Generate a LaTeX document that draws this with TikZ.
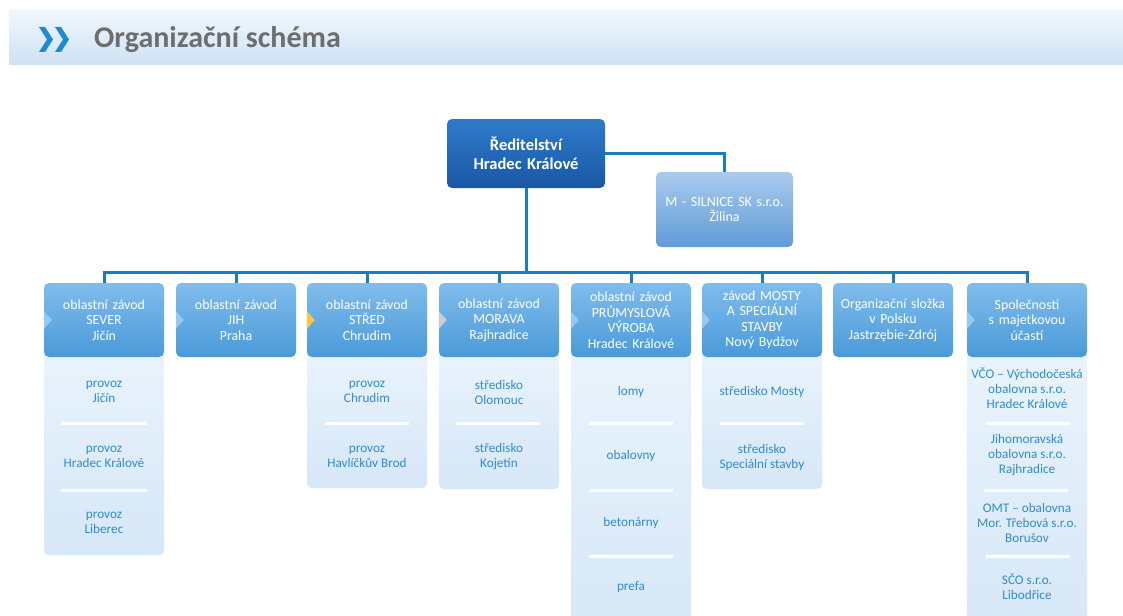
\documentclass[tikz,border=0pt]{standalone}
\usepackage{fontspec}
\setmainfont{Carlito}
\definecolor{hdrtop}{RGB}{240,247,253}
\definecolor{hdrbot}{RGB}{206,226,244}
\definecolor{chevblue}{RGB}{30,138,208}
\definecolor{titlegray}{RGB}{110,110,110}
\definecolor{boxtop}{RGB}{128,188,236}
\definecolor{boxbot}{RGB}{74,154,216}
\definecolor{redtop}{RGB}{46,122,202}
\definecolor{redbot}{RGB}{26,88,165}
\definecolor{msiltop}{RGB}{170,202,236}
\definecolor{msilbot}{RGB}{96,156,216}
\definecolor{subtop}{RGB}{233,243,252}
\definecolor{subbot}{RGB}{214,231,247}
\definecolor{subtxt}{RGB}{48,140,206}
\definecolor{linkblue}{RGB}{26,124,193}
\definecolor{tabblue}{RGB}{150,200,240}
\definecolor{tabyellow}{RGB}{246,200,70}
\definecolor{tabgray}{RGB}{200,205,212}
\begin{document}
\begin{tikzpicture}[x=1pt,y=-1pt,
  lbox/.style={rounded corners=5pt, top color=boxtop, bottom color=boxbot,
    minimum width=120pt, minimum height=74pt, text width=118pt, align=center,
    text=white, font=\fontsize{13.9}{15.5}\selectfont, inner sep=0pt},
  redbox/.style={rounded corners=5pt, top color=redtop, bottom color=redbot,
    minimum width=158pt, minimum height=69pt, text width=150pt, align=center,
    text=white, font=\bfseries\fontsize{16.5}{18.5}\selectfont, inner sep=0pt},
  msilbox/.style={rounded corners=5pt, top color=msiltop, bottom color=msilbot,
    minimum width=137pt, minimum height=75pt, text width=134pt, align=center,
    text=white, font=\fontsize{14}{15.5}\selectfont, inner sep=0pt},
  subpanel/.style={rounded corners=5pt, top color=subtop, bottom color=subbot,
    minimum width=120pt, anchor=north, inner sep=0pt},
  subtext/.style={text=subtxt, align=center, font=\fontsize{13.2}{15}\selectfont, inner sep=0pt},
  sepline/.style={draw=white, line width=3pt},
  conn/.style={draw=linkblue, line width=3pt},
]
\clip (0,0) rectangle (1123,615);
\fill[white] (0,0) rectangle (1123,615);
% header
\shade[top color=hdrtop, bottom color=hdrbot] (9,10) rectangle (1123,65);
\fill[chevblue] (39,27) -- (45,27) -- (53,39.5) -- (45,52) -- (39,52) -- (47,39.5) -- cycle;
\fill[chevblue] (55,27) -- (61,27) -- (69,39.5) -- (61,52) -- (55,52) -- (63,39.5) -- cycle;
\node[anchor=west, inner sep=0pt, text=titlegray, font=\bfseries\fontsize{30}{34}\selectfont] (title) at (94,40) {Organizační schéma};

% sub panels (drawn first)
\node[subpanel, minimum height=205pt] (severS) at (104,350) {};
\node[subpanel, minimum height=138pt] (stredS) at (367,350) {};
\node[subpanel, minimum height=139pt] (moravaS) at (499,350) {};
\node[subpanel, minimum height=290pt] (prumS) at (631,350) {};
\node[subpanel, minimum height=139pt] (mostyS) at (762,350) {};
\node[subpanel, minimum height=290pt] (spolS) at (1027,350) {};

% top nodes
\node[redbox] (red) at (526,153.5) {Ředitelství\\Hradec Králové};
\node[msilbox] (msil) at (724.5,209.5) {M - SILNICE SK s.r.o.\\Žilina};

% main boxes
\node[lbox] (sever) at (104,320) {oblastní závod\\SEVER\\Jičín};
\node[lbox] (jih) at (236,320) {oblastní závod\\JIH\\Praha};
\node[lbox] (stred) at (367,320) {oblastní závod\\STŘED\\Chrudim};
\node[lbox] (morava) at (499,320) {oblastní závod\\MORAVA\\Rajhradice};
\node[lbox] (prum) at (631,320) {oblastní závod\\PRŮMYSLOVÁ\\VÝROBA\\Hradec Králové};
\node[lbox] (mosty) at (762,320) {závod MOSTY\\A SPECIÁLNÍ\\STAVBY\\Nový Bydžov};
\node[lbox] (org) at (893,320) {Organizační složka\\v Polsku\\Jastrzębie-Zdrój};
\node[lbox] (spol) at (1027,320) {Společnosti\\s majetkovou\\účastí};

% tabs
\foreach \n/\c in {sever/tabblue, jih/tabblue, stred/tabyellow, morava/tabgray, prum/tabblue, mosty/tabblue, spol/tabblue}{
  \fill[\c] (\n.west) ++(0,-9) -- ++(8,9) -- ++(-8,9) -- cycle;
}

% connectors
\coordinate (bus) at (526,272);
\draw[conn] (red.south) -- (bus);
\draw[conn] (sever.north) -- (sever.north |- bus) -| (spol.north);
\foreach \n in {jih,stred,morava,prum,mosty,org}{
  \draw[conn] (\n.north) -- (\n.north |- bus);
}
\draw[conn] (red.east) -| (msil.north);

% sub texts: SEVER
\node[subtext] (s1) at (104,392) {provoz\\Jičín};
\draw[sepline] (61,423) -- (147,423);
\node[subtext] (s2) at (104,457) {provoz\\Hradec Králové};
\draw[sepline] (61,490) -- (147,490);
\node[subtext] (s3) at (104,523) {provoz\\Liberec};
% STRED
\node[subtext] (c1) at (367,392) {provoz\\Chrudim};
\draw[sepline] (325,423) -- (409,423);
\node[subtext] (c2) at (367,457) {provoz\\Havlíčkův Brod};
% MORAVA
\node[subtext] (m1) at (499,392) {středisko\\Olomouc};
\draw[sepline] (456,423) -- (540,423);
\node[subtext] (m2) at (499,457) {středisko\\Kojetín};
% PRUM
\node[subtext] (p1) at (631,392) {lomy};
\draw[sepline] (589,423) -- (673,423);
\node[subtext] (p2) at (631,456) {obalovny};
\draw[sepline] (589,490) -- (673,490);
\node[subtext] (p3) at (631,523) {betonárny};
\draw[sepline] (589,556) -- (673,556);
\node[subtext] (p4) at (631,587) {prefa};
% MOSTY
\node[subtext] (o1) at (762,392) {středisko Mosty};
\draw[sepline] (720,423) -- (804,423);
\node[subtext] (o2) at (762,457) {středisko\\Speciální stavby};
% SPOL
\node[subtext] (v1) at (1027,388) {VČO – Východočeská\\obalovna s.r.o.\\Hradec Králové};
\draw[sepline] (986,423) -- (1070,423);
\node[subtext] (v2) at (1027,455) {Jihomoravská\\obalovna s.r.o.\\Rajhradice};
\draw[sepline] (984,490) -- (1068,490);
\node[subtext] (v3) at (1027,523) {OMT – obalovna\\Mor. Třebová s.r.o.\\Borušov};
\draw[sepline] (986,556) -- (1070,556);
\node[subtext] (v4) at (1027,587) {SČO s.r.o.\\Libodřice};
\end{tikzpicture}
\end{document}
